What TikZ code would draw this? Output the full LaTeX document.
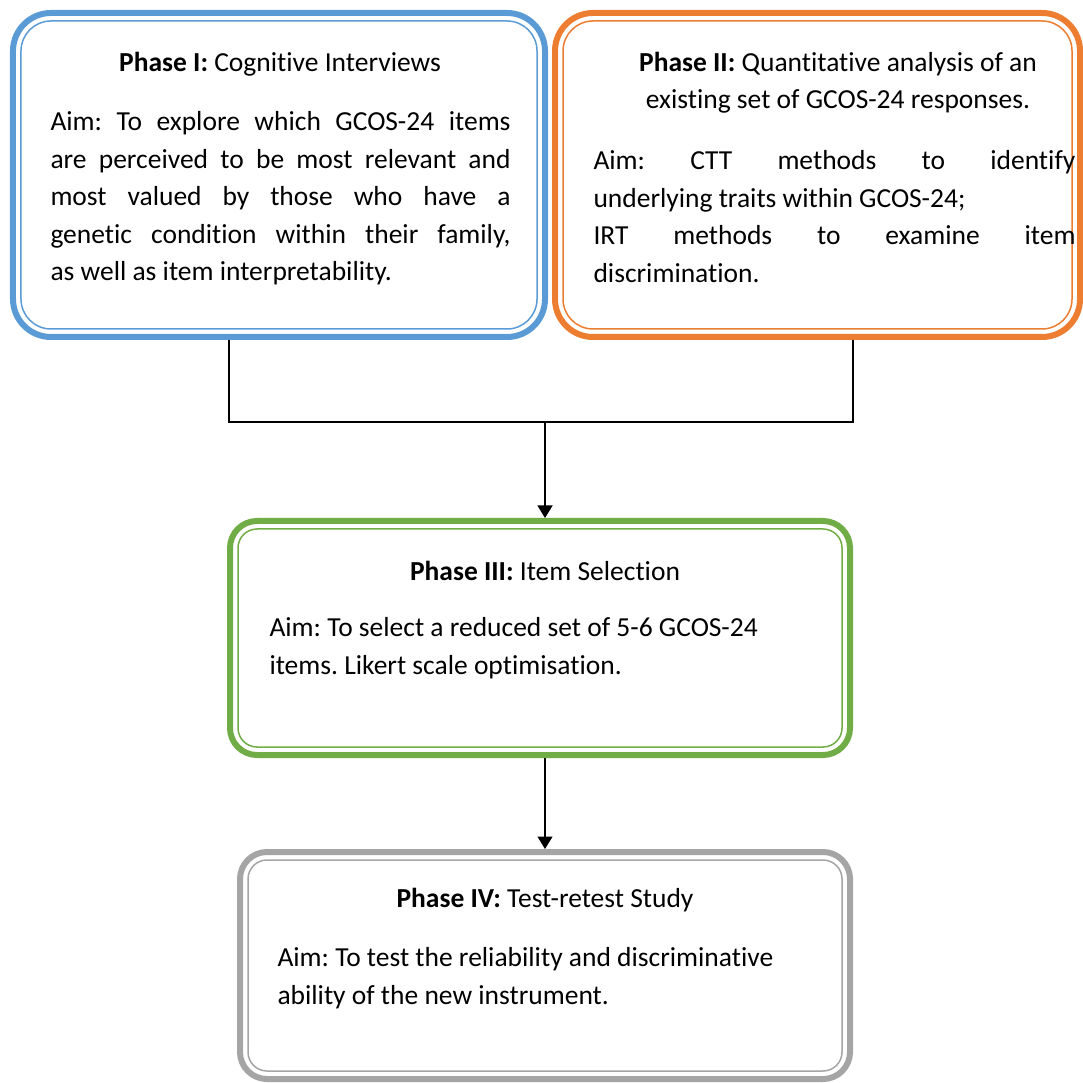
\documentclass[tikz,border=0pt]{standalone}
\usepackage{fontspec}
\setmainfont{Carlito}[Ligatures=NoCommon]
\usetikzlibrary{arrows.meta}
\frenchspacing

\definecolor{phaseblue}{HTML}{5B9BD5}
\definecolor{phaseorange}{HTML}{ED7D31}
\definecolor{phasegreen}{HTML}{70AD47}
\definecolor{phasegrey}{HTML}{A5A5A5}

\tikzset{
	phase/.style={draw=#1, line width=2.4pt, inner sep=0pt},
	rim/.style={draw=#1, line width=0.6pt},
	title/.style={font=\fontsize{11}{15}\selectfont, anchor=base, inner sep=0pt, align=center},
	aim/.style={font=\fontsize{11}{15}\selectfont, anchor=north west, inner sep=0pt},
	link/.style={line width=0.5pt, black},
	flow/.style={link, -{Triangle[width=6pt,length=5pt]}}
}

\begin{document}
\begin{tikzpicture}[x=0.4pt, y=-0.4pt]

	\useasboundingbox (0,0) rectangle (1083,1083);

	% Phase boxes, thick outer line with thin inner rim
	\node[phase=phaseblue, minimum width=212.8pt, minimum height=129.6pt, rounded corners=15.2pt] (p1) at (279,175) {};
	\draw[rim=phaseblue, rounded corners=12pt] ([shift={(11,11)}]p1.north west) rectangle ([shift={(-11,-11)}]p1.south east);

	\node[phase=phaseorange, minimum width=210pt, minimum height=129.6pt, rounded corners=15.2pt] (p2) at (817.5,175) {};
	\draw[rim=phaseorange, rounded corners=12pt] ([shift={(11,11)}]p2.north west) rectangle ([shift={(-11,-11)}]p2.south east);

	\node[phase=phasegreen, minimum width=248pt, minimum height=93.6pt, rounded corners=10.8pt] (p3) at (540,638) {};
	\draw[rim=phasegreen, rounded corners=7.6pt] ([shift={(11,11)}]p3.north west) rectangle ([shift={(-11,-11)}]p3.south east);

	\node[phase=phasegrey, minimum width=244pt, minimum height=90.8pt, rounded corners=10.8pt] (p4) at (545,965.5) {};
	\draw[rim=phasegrey, rounded corners=7.6pt] ([shift={(11,11)}]p4.north west) rectangle ([shift={(-11,-11)}]p4.south east);

	% Titles
	\node[title] (t1) at (280,72) {\textbf{Phase I:} Cognitive Interviews};
	\node[title] (t2) at (838,109) {\textbf{Phase II:} Quantitative analysis of an\\existing set of GCOS-24 responses.};
	\node[title] (t3) at (545,580) {\textbf{Phase III:} Item Selection};
	\node[title] (t4) at (545,907) {\textbf{Phase IV:} Test-retest Study};

	% Aims
	\node[aim, text width=184pt, align=justify] (a1) at (50,111) {Aim: To explore which GCOS-24 items\linebreak are perceived to be most relevant and\linebreak most valued by those who have a\linebreak genetic condition within their family,\linebreak as well as item interpretability.};
	\node[aim, text width=192.8pt, align=justify] (a2) at (593,150) {Aim: CTT methods to identify\linebreak underlying traits within GCOS-24;\\IRT methods to examine item\linebreak discrimination.};
	\node[aim, align=left] (a3) at (269,617) {Aim: To select a reduced set of 5-6 GCOS-24\\items. Likert scale optimisation.};
	\node[aim, align=left] (a4) at (277,947) {Aim: To test the reliability and discriminative\\ability of the new instrument.};

	% Connectors
	\coordinate (jl) at (229,422);
	\coordinate (jr) at (853,422);
	\coordinate (jm) at (545,422);
	\draw[link] (jl |- p1.south) -- (jl) -- (jr) -- (jr |- p2.south);
	\draw[flow] (jm) -- (jm |- p3.north);
	\draw[flow] (p3.south -| jm) -- (p4.north -| jm);

\end{tikzpicture}
\end{document}
